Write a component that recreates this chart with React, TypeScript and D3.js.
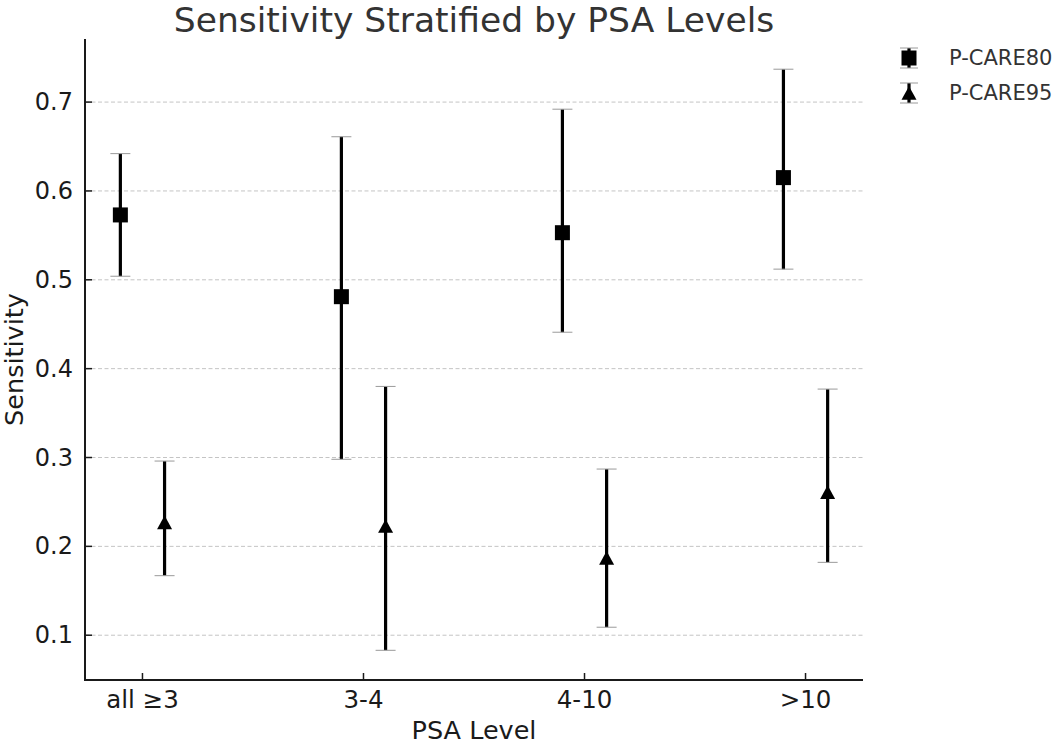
import React from "react";
import * as d3 from "d3";

const categories = ["all ≥3", "3-4", "4-10", ">10"];
const p80Values = [0.573, 0.481, 0.553, 0.615];
const p80Low = [0.504, 0.298, 0.441, 0.512];
const p80High = [0.642, 0.661, 0.692, 0.737];
const p95Values = [0.227, 0.223, 0.187, 0.261];
const p95Low = [0.167, 0.083, 0.109, 0.182];
const p95High = [0.296, 0.38, 0.287, 0.377];
const yTicks = [0.1, 0.2, 0.3, 0.4, 0.5, 0.6, 0.7];
const seriesNames = ["P-CARE80", "P-CARE95"];

const W = 1057;
const H = 744;
const left = 85;
const right = 863;
const top = 39;
const bottom = 680;
const FONT = "DejaVu Sans, sans-serif";

export default function App() {
  const x = d3.scaleLinear().domain([-0.26, 3.26]).range([left, right]);
  const y = d3.scaleLinear().domain([0.0496, 0.771]).range([bottom, top]);

  const series = [
    { name: seriesNames[0], v: p80Values, lo: p80Low, hi: p80High, off: -0.1, shape: "square" },
    { name: seriesNames[1], v: p95Values, lo: p95Low, hi: p95High, off: 0.1, shape: "triangle" },
  ];

  const sq = 15;
  const triPath = (cx: number, cy: number) => {
    const w = 7.5;
    const h = 6.8;
    return `M${cx},${cy - h}L${cx + w},${cy + h}L${cx - w},${cy + h}Z`;
  };
  const capW = 10;
  const capColor = "#9a9a9a";

  const marker = (shape: string, cx: number, cy: number, key: string) =>
    shape === "square" ? (
      <rect key={key} x={cx - sq / 2} y={cy - sq / 2} width={sq} height={sq} fill="#000" />
    ) : (
      <path key={key} d={triPath(cx, cy)} fill="#000" />
    );

  return (
    <svg
      width={W}
      height={H}
      style={{ position: "absolute", left: 0, top: 0, background: "#fff" }}
      fontFamily={FONT}
    >
      <rect x={0} y={0} width={W} height={H} fill="#fff" />
      {/* grid */}
      {yTicks.map((t) => (
        <line
          key={"g" + t}
          x1={left}
          x2={right}
          y1={y(t)}
          y2={y(t)}
          stroke="#c4c4c4"
          strokeWidth={1}
          strokeDasharray="4,2.5"
        />
      ))}
      {/* error bars and markers */}
      {series.map((s) =>
        categories.map((c, i) => {
          const cx = x(i + s.off);
          return (
            <g key={s.name + c}>
              <line x1={cx} x2={cx} y1={y(s.lo[i])} y2={y(s.hi[i])} stroke="#000" strokeWidth={3.2} />
              <line x1={cx - capW} x2={cx + capW} y1={y(s.lo[i])} y2={y(s.lo[i])} stroke={capColor} strokeWidth={1} />
              <line x1={cx - capW} x2={cx + capW} y1={y(s.hi[i])} y2={y(s.hi[i])} stroke={capColor} strokeWidth={1} />
              {marker(s.shape, cx, y(s.v[i]), "m")}
            </g>
          );
        })
      )}
      {/* axes */}
      <line x1={left} x2={left} y1={top} y2={bottom + 1} stroke="#1a1a1a" strokeWidth={2} />
      <line x1={left - 1} x2={right} y1={bottom} y2={bottom} stroke="#1a1a1a" strokeWidth={2} />
      {yTicks.map((t) => (
        <g key={"yt" + t}>
          <line x1={left} x2={left + 7} y1={y(t)} y2={y(t)} stroke="#1a1a1a" strokeWidth={1.5} />
          <text x={left - 12} y={y(t)} textAnchor="end" dominantBaseline="central" fontSize={24} fill="#1a1a1a">
            {d3.format(".1f")(t)}
          </text>
        </g>
      ))}
      {categories.map((c, i) => (
        <g key={"xt" + c}>
          <line x1={x(i)} x2={x(i)} y1={bottom} y2={bottom - 7} stroke="#1a1a1a" strokeWidth={1.5} />
          <text x={x(i)} y={708} textAnchor="middle" fontSize={24.5} fill="#1a1a1a">
            {c}
          </text>
        </g>
      ))}
      {/* axis labels */}
      <text x={474} y={739} textAnchor="middle" fontSize={25.5} fill="#1a1a1a">
        PSA Level
      </text>
      <text
        transform={`translate(23,${(top + bottom) / 2}) rotate(-90)`}
        textAnchor="middle"
        fontSize={25.5}
        fill="#1a1a1a"
      >
        Sensitivity
      </text>
      {/* title */}
      <text x={(left + right) / 2} y={32} textAnchor="middle" fontSize={34.5} fill="#333">
        Sensitivity Stratified by PSA Levels
      </text>
      {/* legend */}
      {series.map((s, k) => {
        const ly = 58 + k * 35;
        const lx = 909;
        return (
          <g key={"lg" + s.name}>
            <line x1={lx} x2={lx} y1={ly - 10} y2={ly + 10} stroke="#000" strokeWidth={3.2} />
            <line x1={lx - 9} x2={lx + 9} y1={ly - 10} y2={ly - 10} stroke={capColor} strokeWidth={1} />
            <line x1={lx - 9} x2={lx + 9} y1={ly + 10} y2={ly + 10} stroke={capColor} strokeWidth={1} />
            {marker(s.shape, lx, ly, "lm")}
            <text x={949} y={ly} dominantBaseline="central" fontSize={21} fill="#333">
              {s.name}
            </text>
          </g>
        );
      })}
    </svg>
  );
}
